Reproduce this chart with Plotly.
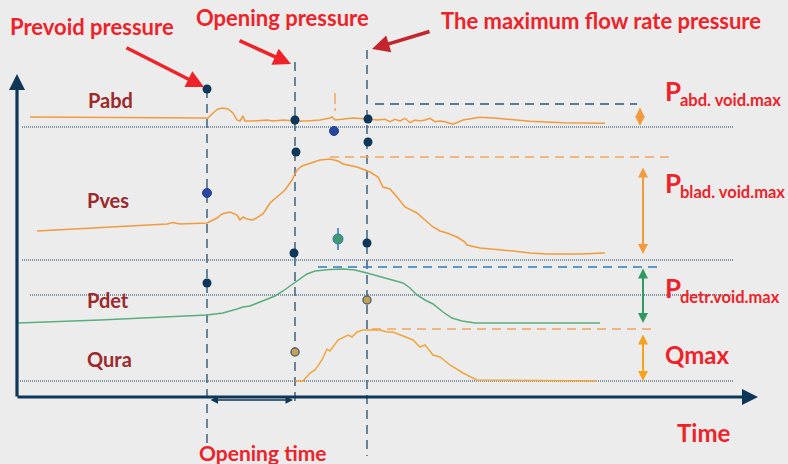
import plotly.graph_objects as go

# ---- curve data (time units, value units share the drawing scale) ----
pabd_t = [30, 120, 208, 213, 218, 223, 228, 233, 237, 240, 243, 245, 253, 267, 273, 283, 296, 307,
          320, 330, 332, 335, 343, 353, 367, 377, 385, 390, 395, 400, 405, 410, 415, 420, 425, 430,
          435, 440, 445, 453, 463, 480, 497, 513, 530, 563, 605]
pabd_v = [117, 117.5, 118, 113, 109, 108, 109, 113, 120, 121, 116, 121, 121, 120, 121, 120, 121, 121,
          120, 118, 117, 120, 119, 118, 119, 120, 119.3, 121.7, 119.3, 121, 118.3, 122.7, 120, 121, 120, 118.3,
          121.7, 121, 121.7, 124.3, 120, 117.3, 118.3, 120, 121.3, 122.7, 123.3]

pves_t = [37, 100, 167, 173, 180, 207, 217, 222, 230, 237, 240, 243, 247, 253, 263, 270, 277, 285,
          292, 297, 302, 310, 320, 330, 338, 343, 357, 370, 378, 383, 390, 397, 405, 417, 423, 433,
          440, 447, 457, 465, 467, 480, 513, 530, 547, 580, 605]
pves_v = [231, 227.5, 224, 222.5, 224, 223, 218, 214, 212, 215, 220, 217, 219, 220, 214, 203, 197, 190,
          180, 170, 166, 163, 160, 159, 161, 164, 167, 172, 177, 187, 189, 197, 207, 213, 218, 227,
          231, 233, 237, 242, 245, 248, 251, 253, 254, 254, 253]

pdet_t = [18, 100, 207, 223, 237, 243, 250, 258, 267, 275, 283, 293, 300, 307, 315, 330, 343, 355,
          367, 385, 403, 410, 417, 425, 433, 443, 452, 462, 475, 540, 600]
pdet_v = [323, 320, 315, 313, 309, 307, 306, 303, 299, 296, 291, 284, 279, 274, 271, 269.5, 269, 270,
          273, 278, 283, 288, 295, 300, 304, 312, 318, 321, 323, 323, 323]

qura_t = [295, 303, 310, 315, 322, 327, 330, 338, 348, 352, 357, 363, 380, 387, 393, 403, 413, 420,
          425, 433, 440, 450, 463, 477, 597]
qura_v = [381, 381, 373, 370, 360, 349, 351, 340, 335, 337, 332, 330, 330, 332, 332, 336, 340, 347,
          345, 355, 357, 365, 373, 380, 381]

# ---- event markers ----
t_prevoid, t_open, t_qmax = 207, 295, 367
navy_pts_t = [207, 207, 295, 296, 294, 368, 368, 367]
navy_pts_v = [89, 283, 120, 152, 253, 119, 142, 243]
blue_pts_t = [207, 334]
blue_pts_v = [193, 131]
gold_pts_t = [295, 367]
gold_pts_v = [352, 300]
green_pt_t, green_pt_v, green_err = [338], [239], [11]

# ---- reference levels ----
baselines = [127, 260, 295, 381]
baseline_start = [22, 22, 30, 20]
pabd_max_level, pves_max_level, pdet_max_level, qura_max_level = 104, 157, 267, 329

ORANGE = "#f39a3c"
GREEN = "#5aad7c"
NAVY = "#0e3658"
RED = "#ee2329"
DARKRED = "#9c2a2c"
BG = "#ECECEC"

fig = go.Figure()

line_kw = dict(mode="lines", hoverinfo="skip", showlegend=False)
fig.add_trace(go.Scatter(x=pabd_t, y=pabd_v, line=dict(color=ORANGE, width=1.5), **line_kw))
fig.add_trace(go.Scatter(x=pves_t, y=pves_v, line=dict(color=ORANGE, width=1.5), **line_kw))
fig.add_trace(go.Scatter(x=pdet_t, y=pdet_v, line=dict(color=GREEN, width=1.5), **line_kw))
fig.add_trace(go.Scatter(x=qura_t, y=qura_v, line=dict(color="#f2a53a", width=1.5), **line_kw))

pt_kw = dict(mode="markers", hoverinfo="skip", showlegend=False, opacity=1)
fig.add_trace(go.Scatter(x=navy_pts_t, y=navy_pts_v,
                         marker=dict(color=NAVY, size=9, opacity=1), **pt_kw))
fig.add_trace(go.Scatter(x=blue_pts_t, y=blue_pts_v,
                         marker=dict(color="#2a47a0", size=9, opacity=1,
                                     line=dict(color="#233f8f", width=1)), **pt_kw))
fig.add_trace(go.Scatter(x=gold_pts_t, y=gold_pts_v,
                         marker=dict(color="#c9a24a", size=8, opacity=1,
                                     line=dict(color="#51677c", width=1.5)), **pt_kw))
fig.add_trace(go.Scatter(x=green_pt_t, y=green_pt_v,
                         error_y=dict(type="data", array=green_err, color="#2f74c0", thickness=1.5, width=0),
                         marker=dict(color="#3f9a6c", size=10, opacity=1,
                                     line=dict(color="#2f74c0", width=1)), **pt_kw))

shapes = []
# dotted channel baselines
for yb, xs in zip(baselines, baseline_start):
    shapes.append(dict(type="line", x0=xs, x1=734, y0=yb, y1=yb, layer="below",
                       line=dict(color="#7f94a6", width=2, dash="1px,1px")))
# vertical event lines
for xt, ytop, ybot in [(t_prevoid, 89, 446), (t_open, 62, 404), (t_qmax, 50, 456)]:
    shapes.append(dict(type="line", x0=xt, x1=xt, y0=ytop, y1=ybot, layer="below",
                       line=dict(color="#3d5f7b", width=1.5, dash="9px,6px")))
# maximum level guides
shapes.append(dict(type="line", x0=375, x1=637, y0=pabd_max_level, y1=pabd_max_level, layer="below",
                   line=dict(color="#5b7b92", width=2, dash="9px,6px")))
shapes.append(dict(type="line", x0=330, x1=670, y0=pves_max_level, y1=pves_max_level, layer="below",
                   line=dict(color="#f3a55e", width=1.5, dash="9px,6px")))
shapes.append(dict(type="line", x0=318, x1=661, y0=pdet_max_level, y1=pdet_max_level, layer="below",
                   line=dict(color="#2f7cbc", width=1.5, dash="9px,6px")))
shapes.append(dict(type="line", x0=372, x1=652, y0=qura_max_level, y1=qura_max_level, layer="below",
                   line=dict(color="#f0a55a", width=1.5, dash="9px,6px")))
shapes.append(dict(type="line", x0=335, x1=335, y0=93, y1=111, layer="below",
                   line=dict(color="#f3a55e", width=1.5, dash="11px,4px")))

annotations = []


def arrow(x0, y0, x1, y1, color, width, head=2, size=1.0, both=False):
    annotations.append(dict(x=x1, y=y1, ax=x0, ay=y0, xref="x", yref="y", axref="x", ayref="y",
                            text="", showarrow=True, arrowhead=head, startarrowhead=head,
                            arrowside="end+start" if both else "end",
                            arrowsize=size, startarrowsize=size,
                            arrowwidth=width, arrowcolor=color))


# axes
arrow(17, 398, 17, 74, NAVY, 3.2)
arrow(16, 397, 758, 397, NAVY, 3.2)
# opening-time span
arrow(209, 400, 293, 400, NAVY, 1.5, both=True)
# callout arrows
arrow(125, 47, 204, 87, RED, 3.5)
arrow(238, 40, 291, 64, RED, 3.5)
arrow(431, 31, 372, 49, "#c2262c", 3.5)
# maximum-value spans
arrow(640, 106, 640, 126, ORANGE, 2.2, both=True, size=0.9)
arrow(643, 166, 643, 254, ORANGE, 2, both=True)
arrow(643, 267, 643, 323, "#2e9a5e", 2, both=True)
arrow(643, 333, 643, 381, "#f6a21e", 2, both=True)


def label(x, y, text, size, color, anchor="center"):
    annotations.append(dict(x=x, y=y, xref="x", yref="y", text=text, showarrow=False,
                            xanchor=anchor, yanchor="middle",
                            font=dict(family="Lato", size=size, color=color, weight="bold")))


label(92, 26, "Prevoid pressure", 22, RED)
label(282, 17, "Opening pressure", 22, RED)
label(601, 20, "The maximum flow rate pressure", 22, RED)
label(110, 100, "Pabd", 20, DARKRED)
label(108, 200, "Pves", 20, DARKRED)
label(108, 300, "Pdet", 20, DARKRED)
label(109, 359, "Qura", 20, DARKRED)
label(262, 452, "Opening time", 21, RED)
label(703, 432, "Time", 24, RED)
label(697, 354, "Qmax", 24, RED)

for ytop, sub in [(91, "abd. void.max"), (183, "blad. void.max"), (288, "detr.void.max")]:
    label(663, ytop, "P", 26, RED, anchor="left")
    label(678, ytop + 9, sub, 16.5, RED, anchor="left")

fig.update_layout(
    width=788, height=464,
    margin=dict(l=0, r=0, t=0, b=0),
    paper_bgcolor=BG, plot_bgcolor=BG,
    shapes=shapes, annotations=annotations,
    xaxis=dict(range=[0, 788], visible=False, fixedrange=True),
    yaxis=dict(range=[464, 0], visible=False, fixedrange=True),
)

fig.write_html("out.html")
